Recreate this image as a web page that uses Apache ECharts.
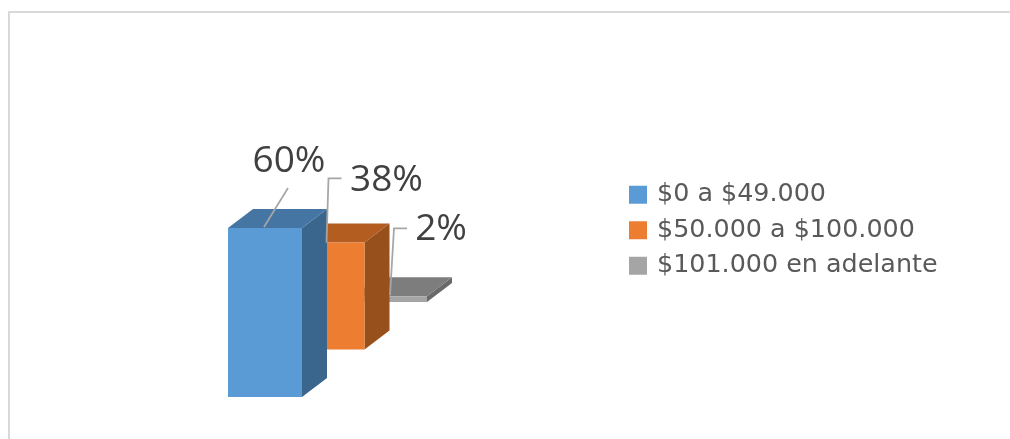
<!DOCTYPE html>
<html><head><meta charset="utf-8">
<style>html,body{margin:0;padding:0;background:#fff;overflow:hidden}#c{width:1010px;height:439px}</style>
<script src="https://cdn.jsdelivr.net/npm/echarts@6/dist/echarts.min.js"></script>
</head><body><div id="c"></div>
<script>
const categories = ['$0 a $49.000', '$50.000 a $100.000', '$101.000 en adelante'];
const values = [60, 38, 2];
const labels = ['60%', '38%', '2%'];

const colors = ['#5B9BD5', '#ED7D31', '#A5A5A5'];
const topColors = ['#4576A3', '#B35D20', '#7D7D7D'];
const sideColors = ['#3A658C', '#97501C', '#696969'];
// Oblique-projection style: depth of one bar, and step back per bar
const DEPTH = [25, -19];
const STEP_Y = -47.5;
const BAR_W = 74;
// leader polyline points and label anchors, relative to the bar's top-front-centre
const leaders = [
  [[-1, -1], [23, -40]],
  [[-1, 0], [1, -64], [14, -64]],
  [[0, -1], [4, -68], [17, -68]]
];
const labelAnchor = [[24, -67], [59, -62], [51, -67]];

function renderBar(idx) {
  return function (params, api) {
    const base = api.coord([idx, 0]);
    const top = api.coord([idx, api.value(1)]);
    const shift = STEP_Y * idx;
    const xl = base[0] - BAR_W / 2, xr = base[0] + BAR_W / 2;
    const yb = base[1] + shift, yt = top[1] + shift;
    const [dx, dy] = DEPTH;
    const poly = (pts, fill) => ({ type: 'polygon', shape: { points: pts }, style: { fill: fill } });
    const cx = base[0], L = leaders[idx], A = labelAnchor[idx];
    return {
      type: 'group',
      children: [
        poly([[xr, yb], [xr + dx, yb + dy], [xr + dx, yt + dy], [xr, yt]], sideColors[idx]),
        poly([[xl, yt], [xr, yt], [xr + dx, yt + dy], [xl + dx, yt + dy]], topColors[idx]),
        { type: 'rect', shape: { x: xl, y: yt, width: BAR_W, height: yb - yt }, style: { fill: colors[idx] } },
        { type: 'polyline', shape: { points: L.map(p => [cx + p[0], yt + p[1]]) },
          style: { fill: 'none', stroke: '#A6A6A6', lineWidth: 1.75 }, z2: 5 },
        { type: 'text', x: cx + A[0], y: yt + A[1],
          style: { text: labels[idx], fill: '#404040', fontFamily: 'Open Sans', fontSize: 37,
                   align: 'center', verticalAlign: 'middle' }, z2: 6 }
      ]
    };
  };
}

// Drawn back to front: the last category sits deepest in the oblique view
const series = categories.map((name, i) => ({
  name: name,
  type: 'custom',
  coordinateSystem: 'cartesian2d',
  renderItem: renderBar(i),
  data: [[i, values[i]]],
  itemStyle: { color: colors[i] },
  animation: false,
  clip: false
})).reverse();

const chart = echarts.init(document.getElementById('c'), null, { renderer: 'canvas' });
chart.setOption({
  animation: false,
  backgroundColor: '#fff',
  grid: { left: 233.75, top: 228, width: 187.5, height: 169, containLabel: false },
  xAxis: { type: 'category', data: categories, show: false },
  yAxis: { type: 'value', min: 0, max: 60, show: false },
  legend: {
    orient: 'vertical', left: 629, top: 178, padding: 0, icon: 'rect',
    itemWidth: 18, itemHeight: 18, itemGap: 2, selectedMode: false,
    data: categories,
    textStyle: { color: '#595959', fontFamily: 'DejaVu Sans', fontSize: 25.4, padding: [0, 0, 0, 5], lineHeight: 33.5 }
  },
  graphic: [
    { type: 'polyline', shape: { points: [[9, 439], [9, 12], [1010, 12]] },
      style: { fill: 'none', stroke: '#D9D9D9', lineWidth: 2 }, silent: true }
  ],
  series: series
});
</script></body></html>
